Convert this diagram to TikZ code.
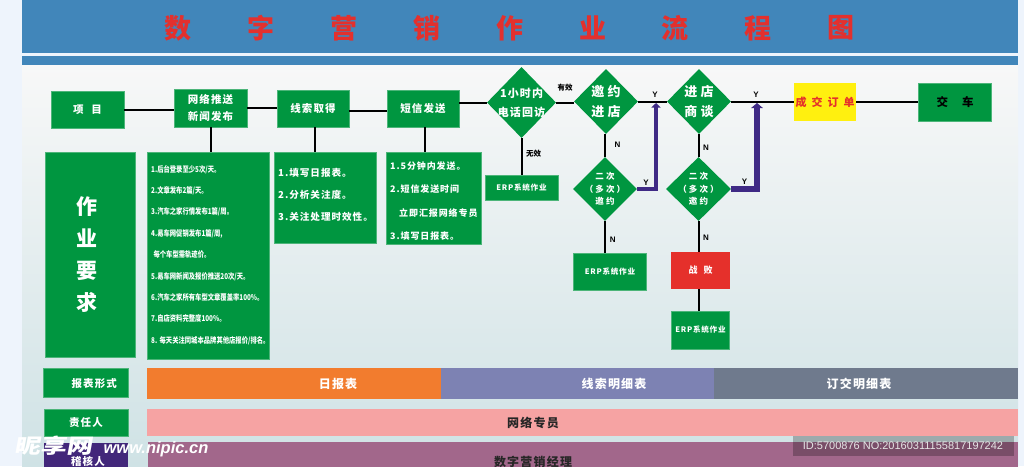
\documentclass[tikz,border=0pt]{standalone}
\usepackage{fontspec}
\usetikzlibrary{shapes.geometric,arrows.meta}
\setmainfont{Noto Sans CJK SC}
\newfontfamily\cjkls[LetterSpace=10]{Noto Sans CJK SC}
\newfontfamily\cjkwd[LetterSpace=25]{Noto Sans CJK SC}
\newfontfamily\lat{Liberation Sans}
\definecolor{band}{HTML}{4186BA}
\definecolor{gr}{HTML}{009640}
\definecolor{pale}{HTML}{EEF4FC}
\definecolor{ptop}{HTML}{F8F8F8}
\definecolor{pbot}{HTML}{CFE2E5}
\definecolor{titlered}{HTML}{E3302D}
\definecolor{purp}{HTML}{3F2A85}
\definecolor{darkpurp}{HTML}{42277A}
\definecolor{org}{HTML}{F27C2E}
\definecolor{lav}{HTML}{7D82B3}
\definecolor{slate}{HTML}{6F7A8D}
\definecolor{pink}{HTML}{F6A3A3}
\definecolor{mauve}{HTML}{A2678B}
\definecolor{yel}{HTML}{FFF00F}
\definecolor{lose}{HTML}{E5302B}
\tikzset{
 px/.style={x=1pt,y=-1pt},
 rectbox/.style={rectangle,inner sep=0pt,text=white,font=\cjkls\bfseries\fontsize{10.5}{17}\selectfont,align=center},
 gbox/.style={rectbox,fill=gr,draw=gr!70!white,line width=.4pt},
 dia/.style={diamond,aspect=1,inner sep=0pt,fill=gr},
 dtxt/.style={text=white,inner sep=0pt,align=center,font=\cjkls\bfseries\fontsize{11}{19}\selectfont},
 dbig/.style={text=white,inner sep=0pt,align=center,font=\cjkwd\bfseries\fontsize{13}{20.5}\selectfont},
 dsmall/.style={text=white,inner sep=0pt,align=center,font=\cjkwd\bfseries\fontsize{8.5}{12.5}\selectfont},
 erptxt/.style={font=\cjkls\bfseries\fontsize{7.6}{10}\selectfont},
 listtxt/.style={text=white,inner sep=0pt,align=left,anchor=west},
 titlechar/.style={text=titlered,inner sep=0pt,font=\bfseries\fontsize{27}{30}\selectfont},
 conn/.style={line width=2pt,black},
 loopback/.style={draw=purp},
 tag/.style={text=black,inner sep=0pt,font=\bfseries\fontsize{7.5}{9}\selectfont},
 yn/.style={text=black,inner sep=0pt,font=\lat\bfseries\fontsize{8}{9}\selectfont},
 bartxt/.style={inner sep=0pt,font=\cjkls\bfseries\fontsize{12}{14}\selectfont},
}
\begin{document}
\begin{tikzpicture}[px]
\useasboundingbox (0,0) rectangle (1024,466);
\clip (0,0) rectangle (1024,466);
\fill[pale] (0,0) rectangle (1024,466);
\shade[top color=ptop,bottom color=pbot] (22,62) rectangle (1018,466);
\fill[band] (22,0) rectangle (1018,53);
\fill[band] (22,56) rectangle (1018,65);
\foreach \c/\x/\n in {数/178/ta,字/261/tb,营/344/tc,销/427/td,作/510/te,业/593/tf,流/675/tg,程/758/th,图/841/ti}
  \node[titlechar] (\n) at (\x,28) {\c};

% flow row
\node[gbox,minimum width=73pt,minimum height=37pt] (item) at (87.5,109.5) {项\hspace{8pt}目};
\node[gbox,minimum width=73pt,minimum height=38pt] (news) at (210.5,108) {网络推送\\新闻发布};
\node[gbox,minimum width=72pt,minimum height=37pt] (lead) at (313,108.5) {线索取得};
\node[gbox,minimum width=72pt,minimum height=37pt] (sms) at (423,108.5) {短信发送};
\node[dia,minimum width=69pt,minimum height=71pt,label={[dtxt]center:1小时内\\电话回访}] (call) at (521.5,102.5) {};
\node[dia,minimum width=64pt,minimum height=65pt,label={[dbig]center:邀约\\进店}] (invite) at (606,101.5) {};
\node[dia,minimum width=64pt,minimum height=65pt,label={[dbig]center:进店\\商谈}] (talk) at (699,101.5) {};
\node[rectbox,fill=yel,text=lose,minimum width=62pt,minimum height=38pt,font=\bfseries\fontsize{11}{13}\selectfont] (deal) at (825,102) {成\hspace{5pt}交\hspace{5pt}订\hspace{5pt}单};
\node[gbox,text=black,minimum width=73pt,minimum height=38pt,font=\bfseries\fontsize{11.5}{13}\selectfont] (car) at (955,102) {交\hspace{14pt}车};

% requirement boxes
\node[gbox,minimum width=90pt,minimum height=205pt,font=\bfseries\fontsize{21}{32}\selectfont] (req) at (90,254.5) {\hspace*{-6pt}作\\\hspace*{-6pt}业\\\hspace*{-6pt}要\\\hspace*{-6pt}求};
\node[gbox,minimum width=122pt,minimum height=207pt] (reqa) at (208,256) {};
\node[gbox,minimum width=102pt,minimum height=91pt] (reqb) at (325,197.5) {};
\node[gbox,minimum width=95pt,minimum height=92pt] (reqc) at (433.5,198) {};
\node[listtxt,font=\bfseries\fontsize{8}{21.4}\selectfont] (ta1) at (151,253.5) {\scalebox{.79}[1]{\begin{tabular}{@{}l@{}}1.后台登录至少5次/天。\\2.文章发布2篇/天。\\3.汽车之家行情发布1篇/周。\\4.易车网促销发布1篇/周,\\\hspace{3pt}每个车型需轨迹价。\\5.易车网新闻及报价推送20次/天。\\6.汽车之家所有车型文章覆盖率100\%。\\7.自店资料完整度100\%。\\8.\hspace{3pt}每天关注同城本品牌其他店报价/排名。\end{tabular}}};
\node[listtxt,font=\cjkls\bfseries\fontsize{9.6}{22.3}\selectfont] (tb1) at (278,195) {1.填写日报表。\\2.分析关注度。\\3.关注处理时效性。};
\node[listtxt,font=\cjkls\bfseries\fontsize{9}{23.6}\selectfont] (tc1) at (390,201) {1.5分钟内发送。\\2.短信发送时间\\\hspace{9pt}立即汇报网络专员\\3.填写日报表。};

% lower flow
\node[gbox,erptxt,minimum width=73pt,minimum height=25pt] (erpa) at (521.5,187.5) {ERP系统作业};
\node[dia,minimum width=64pt,minimum height=64pt,label={[dsmall]center:二次\\（多次）\\邀约}] (inviteb) at (605,189) {};
\node[dia,minimum width=65pt,minimum height=64pt,label={[dsmall]center:二次\\（多次）\\邀约}] (talkb) at (698.5,189) {};
\node[gbox,erptxt,minimum width=73pt,minimum height=37pt] (erpb) at (610,271.5) {ERP系统作业};
\node[rectbox,fill=lose,minimum width=59pt,minimum height=37pt,font=\bfseries\fontsize{9}{11}\selectfont] (fail) at (700.5,270.5) {战\hspace{6pt}败};
\node[gbox,erptxt,minimum width=58pt,minimum height=37.5pt] (erpc) at (700.5,330) {ERP系统作业};

% connectors
\draw[conn] (item.east) -- (item.east -| news.west);
\draw[conn] (news.east) -- (news.east -| lead.west);
\draw[conn] ([yshift=-2.5pt]lead.east) -- ([yshift=-2.5pt]sms.west);
\draw[conn] (sms.east |- call.west) -- (call.west);
\draw[conn] (call.east) -- (call.east -| invite.west);
\draw[conn] (invite.east) -- (talk.west);
\draw[conn] (talk.east) -- (talk.east -| deal.west);
\draw[conn] (deal.east) -- (car.west);
\draw[conn] (news.south) -- (news.south |- reqa.north);
\draw[conn] ([xshift=2pt]lead.south) -- ([xshift=2pt]lead.south |- reqb.north);
\draw[conn] ([xshift=2pt]sms.south) -- ([xshift=2pt]sms.south |- reqc.north);
\draw[conn] (call.south) -- (call.south |- erpa.north);
\draw[conn] (inviteb.north |- invite.south) -- (inviteb.north);
\draw[conn] (talkb.north |- talk.south) -- (talkb.north);
\draw[conn] (inviteb.south) -- (inviteb.south |- erpb.north);
\draw[conn] (talkb.south) -- (talkb.south |- fail.north);
\draw[conn] (talkb.south |- fail.south) -- (talkb.south |- erpc.north);
\coordinate (joina) at (656,103);
\coordinate (joinb) at (757,103);
\draw[loopback,line width=4.5pt,-{Triangle[length=4.5pt,width=9pt]}] (inviteb.east) -| (joina);
\draw[loopback,line width=6pt,-{Triangle[length=5pt,width=11.5pt]}] (talkb.east) -| (joinb);

% connector labels
\node[tag] (lyes) at (565,88) {有效};
\node[tag] (lno) at (533.5,154) {无效};
\node[yn] (y1) at (655,95) {Y};
\node[yn] (y2) at (756,94.5) {Y};
\node[yn] (y3) at (646,183) {Y};
\node[yn] (y4) at (744.5,182) {Y};
\node[yn] (n1) at (617.5,145) {N};
\node[yn] (n2) at (706,148) {N};
\node[yn] (n3) at (612.7,240) {N};
\node[yn] (n4) at (706,238) {N};

% bottom rows
\node[gbox,minimum width=84.5pt,minimum height=29pt,font=\cjkls\bfseries\fontsize{10.5}{13}\selectfont,text depth=0pt] (rform) at (85.75,382.5) {\hspace{17pt}报表形式};
\node[gbox,minimum width=84pt,minimum height=27pt] (rresp) at (86,422.5) {责任人};
\node[rectbox,fill=darkpurp,minimum width=84pt,minimum height=26pt] (rcheck) at (86,456) {};
\node[rectbox,anchor=center] (rcheckt) at (88,461) {稽核人};
\node[rectbox,bartxt,fill=org,minimum width=294pt,minimum height=31pt] (bara) at (294,383.5) {\hspace{88pt}日报表};
\node[rectbox,bartxt,fill=lav,minimum width=273pt,minimum height=31pt] (barb) at (577.5,383.5) {\hspace{73pt}线索明细表};
\node[rectbox,bartxt,fill=slate,minimum width=304pt,minimum height=31pt] (barc) at (866,383.5) {\hspace{-14pt}订交明细表};
\node[rectbox,bartxt,text=black!85,fill=pink,minimum width=871pt,minimum height=27pt] (barp) at (582.5,422.5) {\hspace{-99pt}网络专员};
\node[rectbox,fill=mauve,minimum width=870pt,minimum height=26pt] (barm) at (583,455) {};
\node[bartxt,text=black!85,anchor=center] (barmt) at (533,462) {数字营销经理};

% stamps
\node[inner sep=0pt,text=white,font=\bfseries\fontsize{26}{28}\selectfont,xslant=.18,transform shape] (wmcn) at (55,446) {\scalebox{1}[.78]{昵享网}};
\node[inner sep=0pt,text=white,font=\lat\bfseries\itshape\fontsize{16.5}{18}\selectfont] (wmen) at (156,449) {www.nipic.cn};
\fill[black,opacity=.25] (793,436) rectangle (1014,456);
\node[inner sep=0pt,text=white!90!black,font=\lat\fontsize{11}{12}\selectfont] (idtxt) at (903,446) {ID:5700876 NO:20160311155817197242};
\end{tikzpicture}
\end{document}
